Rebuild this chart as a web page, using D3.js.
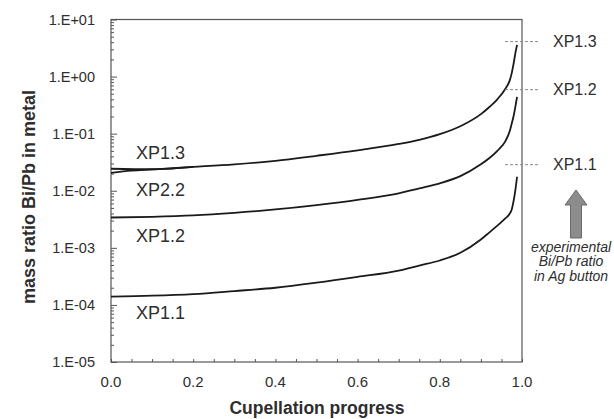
<!DOCTYPE html>
<html>
<head>
<meta charset="utf-8">
<script src="https://cdn.jsdelivr.net/npm/d3@7/dist/d3.min.js"></script>
<style>
  html, body { margin: 0; padding: 0; background: #fff; }
  svg { display: block; font-family: "Liberation Sans", Arial, sans-serif; }
</style>
</head>
<body>
<svg id="chart" width="614" height="419"></svg>
<script>
// ---- data ----
const xpProgress = [0, 0.1, 0.2, 0.3, 0.4, 0.5, 0.6, 0.7, 0.75, 0.8, 0.85, 0.9, 0.92, 0.94, 0.96, 0.97, 0.975, 0.98, 0.984, 0.988];
const xp13 = [0.0243, 0.0238, 0.0262, 0.029, 0.0335, 0.041, 0.051, 0.066, 0.078, 0.098, 0.135, 0.22, 0.29, 0.4, 0.62, 0.85, 1.15, 1.75, 2.6, 3.6];
const xp12 = [0.0034, 0.0035, 0.0037, 0.0041, 0.0047, 0.0056, 0.0069, 0.009, 0.011, 0.0135, 0.018, 0.029, 0.037, 0.05, 0.075, 0.11, 0.15, 0.21, 0.3, 0.44];
const xp11 = [0.00014, 0.000145, 0.000155, 0.000175, 0.0002, 0.000245, 0.00031, 0.0004, 0.00049, 0.0006, 0.00082, 0.0014, 0.00185, 0.00245, 0.0033, 0.00395, 0.0047, 0.0069, 0.0105, 0.0176];
const xp22Progress = [0, 0.05, 0.1, 0.15, 0.2];
const xp22 = [0.0205, 0.0225, 0.0236, 0.0248, 0.0262];

const curveLabels = ["XP1.3", "XP2.2", "XP1.2", "XP1.1"];
const curveLabelValues = [0.047, 0.0105, 0.0016, 0.0000728];

const expNames = ["XP1.3", "XP1.2", "XP1.1"];
const expValues = [4.1, 0.59, 0.0286];

const xTicks = [0, 0.2, 0.4, 0.6, 0.8, 1.0];
const yTicks = [1e1, 1e0, 1e-1, 1e-2, 1e-3, 1e-4, 1e-5];
const yTickLabels = ["1.E+01", "1.E+00", "1.E-01", "1.E-02", "1.E-03", "1.E-04", "1.E-05"];

const xTitle = "Cupellation progress";
const yTitle = "mass ratio Bi/Pb in metal";
const noteLines = ["experimental", "Bi/Pb ratio", "in Ag button"];

// ---- layout ----
const svg = d3.select("#chart");
svg.append("rect").attr("width", 614).attr("height", 419).attr("fill", "#fff");
const L = 111, R = 522, T = 19.5, B = 362;
const x = d3.scaleLinear().domain([0, 1]).range([L, R]);
const y = d3.scaleLog().domain([1e-5, 1e1]).range([B, T]);
const textCol = "#2e2e2e";

// frame
svg.append("rect").attr("x", L).attr("y", T).attr("width", R - L).attr("height", B - T)
  .attr("fill", "none").attr("stroke", "#555").attr("stroke-width", 1.2);

// y axis ticks (inward)
const yAxis = d3.axisRight(y)
  .tickValues(d3.range(-5, 1).flatMap(e => d3.range(1, 10).map(m => m * Math.pow(10, e))).concat([10]))
  .tickSize(3).tickFormat("");
const yg = svg.append("g").attr("transform", `translate(${L},0)`).call(yAxis);
yg.select(".domain").remove();
yg.selectAll(".tick line").attr("stroke", "#555")
  .attr("x2", d => (Math.abs(Math.log10(d) - Math.round(Math.log10(d))) < 1e-9 ? 6 : 3));

// y tick labels
svg.append("g").selectAll("text").data(yTicks).join("text")
  .attr("x", 95).attr("y", d => y(d)).attr("dy", "0.35em")
  .attr("text-anchor", "end").attr("font-size", 14.5).attr("fill", textCol)
  .text((d, i) => yTickLabels[i]);

// x axis ticks (inward)
const xAxis = d3.axisTop(x).tickValues(d3.range(0, 21).map(i => i * 0.05)).tickSize(3).tickFormat("");
const xg = svg.append("g").attr("transform", `translate(0,${B})`).call(xAxis);
xg.select(".domain").remove();
xg.selectAll(".tick line").attr("stroke", "#555");

svg.append("g").selectAll("text").data(xTicks).join("text")
  .attr("x", d => x(d)).attr("y", B + 20).attr("dy", "0.35em")
  .attr("text-anchor", "middle").attr("font-size", 15).attr("fill", textCol)
  .text(d => d.toFixed(1));

// titles
svg.append("text").attr("x", 317).attr("y", 408).attr("dy", "0.35em")
  .attr("text-anchor", "middle").attr("font-size", 17.5).attr("font-weight", "bold")
  .attr("fill", textCol).text(xTitle);
svg.append("text").attr("transform", "translate(29,197) rotate(-90)").attr("dy", "0.35em")
  .attr("text-anchor", "middle").attr("font-size", 18).attr("font-weight", "bold")
  .attr("fill", textCol).text(yTitle);

// curves
const line = d3.line().x(d => x(d[0])).y(d => y(d[1])).curve(d3.curveMonotoneX);
const series = [
  xpProgress.map((p, i) => [p, xp13[i]]),
  xp22Progress.map((p, i) => [p, xp22[i]]),
  xpProgress.map((p, i) => [p, xp12[i]]),
  xpProgress.map((p, i) => [p, xp11[i]])
];
svg.append("g").selectAll("path").data(series).join("path")
  .attr("d", line).attr("fill", "none").attr("stroke", "#1a1a1a").attr("stroke-width", 1.8)
  .attr("stroke-linejoin", "round");

// curve labels
svg.append("g").selectAll("text").data(curveLabels).join("text")
  .attr("x", 136).attr("y", (d, i) => y(curveLabelValues[i])).attr("dy", "0.35em")
  .attr("font-size", 18).attr("fill", textCol).text(d => d);

// experimental dashed markers
const eg = svg.append("g");
eg.selectAll("line").data(expValues).join("line")
  .attr("x1", x(1) - 17).attr("x2", x(1) + 18)
  .attr("y1", d => y(d)).attr("y2", d => y(d))
  .attr("stroke", "#888").attr("stroke-width", 1).attr("stroke-dasharray", "3,2");
eg.selectAll("text").data(expValues).join("text")
  .attr("x", x(1) + 31).attr("y", d => y(d)).attr("dy", "0.35em")
  .attr("font-size", 16).attr("fill", textCol).text((d, i) => expNames[i]);

// arrow
const ax = x(1) + 54, tip = 190, base = 238;
svg.append("path")
  .attr("d", `M${ax},${tip} L${ax + 11},${tip + 15} L${ax + 5.5},${tip + 15} L${ax + 5.5},${base} L${ax - 5.5},${base} L${ax - 5.5},${tip + 15} L${ax - 11},${tip + 15} Z`)
  .attr("fill", "#8c8c8c").attr("stroke", "#6a6a6a").attr("stroke-width", 1);

svg.append("g").selectAll("text").data(noteLines).join("text")
  .attr("x", ax - 5).attr("y", (d, i) => 247 + i * 14.5).attr("dy", "0.35em")
  .attr("text-anchor", "middle").attr("font-size", 14).attr("font-style", "italic")
  .attr("fill", textCol).text(d => d);
</script>
</body>
</html>
